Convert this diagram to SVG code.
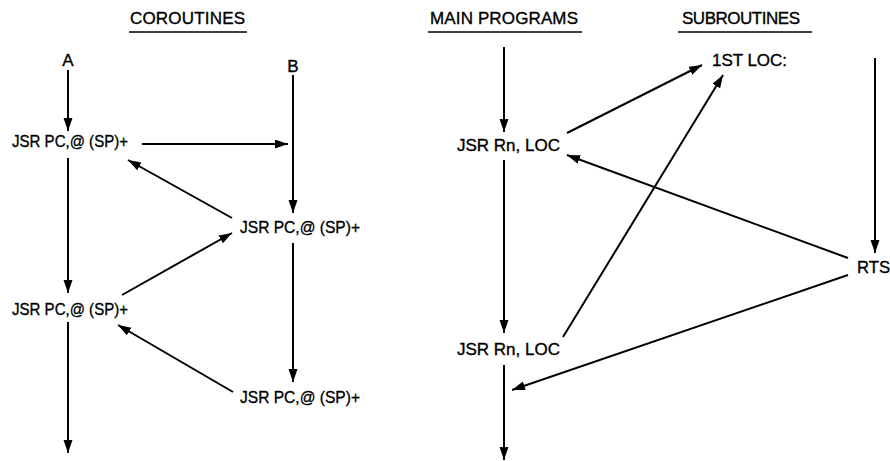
<svg xmlns="http://www.w3.org/2000/svg" width="890" height="461" viewBox="0 0 890 461">
<style>
text{font-family:"Liberation Sans",Arial,sans-serif;font-size:17px;fill:#000;stroke:#000;stroke-width:0.35}
.t{font-size:17px}
.c line{stroke:#000;stroke-width:2;marker-end:url(#ah)}
.u{stroke:#000;stroke-width:1.5}
</style>
<defs>
<marker id="ah" markerUnits="userSpaceOnUse" markerWidth="14" markerHeight="10" refX="13" refY="4.5" orient="auto">
<path d="M0,0 L13,4.5 L0,9 z" fill="#000"/>
</marker>
</defs>
<rect width="890" height="461" fill="#fff"/>
<g id="titles">
<text class="t" x="130" y="24" textLength="115" lengthAdjust="spacing">COROUTINES</text>
<line class="u" x1="129" y1="32" x2="247" y2="32"/>
<text class="t" x="430" y="24" textLength="148" lengthAdjust="spacing">MAIN PROGRAMS</text>
<line class="u" x1="428" y1="32" x2="582" y2="32"/>
<text class="t" x="682" y="24" textLength="118" lengthAdjust="spacing">SUBROUTINES</text>
<line class="u" x1="678" y1="32" x2="812" y2="32"/>
</g>
<g id="nodeA"><text x="68" y="66" text-anchor="middle">A</text></g>
<g id="nodeB"><text x="293" y="72" text-anchor="middle">B</text></g>
<g id="jsr1"><text x="12" y="147" textLength="116" lengthAdjust="spacingAndGlyphs">JSR PC,@ (SP)+</text></g>
<g id="jsr2"><text x="240" y="233" textLength="120" lengthAdjust="spacingAndGlyphs">JSR PC,@ (SP)+</text></g>
<g id="jsr3"><text x="12" y="315" textLength="116" lengthAdjust="spacingAndGlyphs">JSR PC,@ (SP)+</text></g>
<g id="jsr4"><text x="240" y="403" textLength="120" lengthAdjust="spacingAndGlyphs">JSR PC,@ (SP)+</text></g>
<g id="main1"><text x="457" y="151" textLength="103" lengthAdjust="spacing">JSR Rn, LOC</text></g>
<g id="main2"><text x="457" y="355" textLength="103" lengthAdjust="spacing">JSR Rn, LOC</text></g>
<g id="loc1"><text x="712" y="66" textLength="75" lengthAdjust="spacing">1ST LOC:</text></g>
<g id="rts"><text x="857" y="273" textLength="33" lengthAdjust="spacingAndGlyphs">RTS</text></g>
<g id="connectors" class="c">
<line x1="68" y1="70" x2="68" y2="131"/>
<line x1="142" y1="144" x2="288" y2="144"/>
<line x1="293" y1="75" x2="293" y2="213"/>
<line x1="68" y1="158" x2="68" y2="293"/>
<line x1="232" y1="218" x2="128" y2="160"/>
<line x1="122" y1="295" x2="232" y2="233"/>
<line x1="293" y1="243" x2="293" y2="382"/>
<line x1="68" y1="322" x2="68" y2="453"/>
<line x1="233" y1="392" x2="118" y2="325"/>
<line x1="504" y1="47" x2="504" y2="132"/>
<line x1="567" y1="133" x2="702" y2="65"/>
<line x1="563" y1="337" x2="723" y2="75"/>
<line x1="875" y1="58" x2="875" y2="253"/>
<line x1="848" y1="258" x2="567" y2="155"/>
<line x1="848" y1="275" x2="512" y2="390"/>
<line x1="504" y1="160" x2="504" y2="333"/>
<line x1="504" y1="365" x2="504" y2="460"/>
</g>
</svg>
